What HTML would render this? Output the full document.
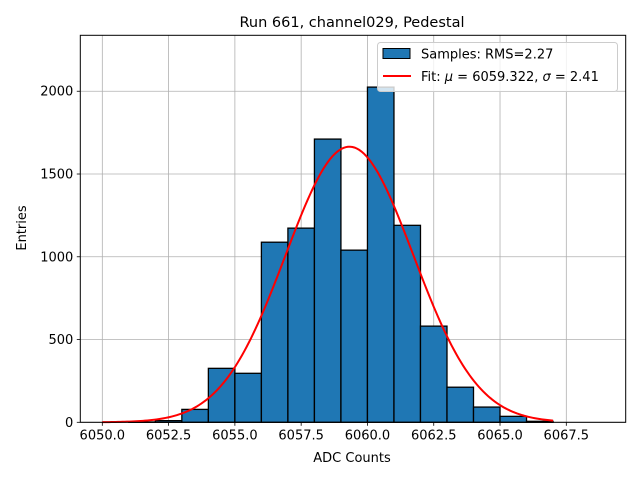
<!DOCTYPE html>
<html><head><meta charset="utf-8"><style>
body{margin:0;background:#fff;}
svg text{font-family:"DejaVu Sans","Liberation Sans",sans-serif;fill:#000;}
</style></head><body>
<svg id="chart" width="640" height="480" xmlns="http://www.w3.org/2000/svg">
<rect width="640" height="480" fill="#fff"/>
<g id="grid"></g>
<g id="bars"></g>
<g id="fit"></g>
<g id="axes"></g>
</svg>
<script>
const binStarts = [6050,6051,6052,6053,6054,6055,6056,6057,6058,6059,6060,6061,6062,6063,6064,6065,6066,6067,6068];
const counts = [0,2,10,78,326,296,1088,1173,1711,1040,2025,1190,581,212,92,36,6,0,0];
const xTicks = [6050.0,6052.5,6055.0,6057.5,6060.0,6062.5,6065.0,6067.5];
const xTickLabels = ["6050.0","6052.5","6055.0","6057.5","6060.0","6062.5","6065.0","6067.5"];
const yTicks = [0,500,1000,1500,2000];
const fitMu = 6059.322, fitSigma = 2.41, fitAmp = 1665;
const fitRange = [6050, 6067];

const L=80.3,R=625.7,T=35.3,B=422.3;
const xMin=6049.17,xMax=6069.74,yMax=2338;
const X=v=>L+(v-xMin)/(xMax-xMin)*(R-L);
const Y=v=>B-v/yMax*(B-T);
const NS="http://www.w3.org/2000/svg";
function mk(tag,attrs,parent){const e=document.createElementNS(NS,tag);for(const k in attrs)e.setAttribute(k,attrs[k]);parent.appendChild(e);return e;}
const grid=document.getElementById('grid'),bars=document.getElementById('bars'),fit=document.getElementById('fit'),axes=document.getElementById('axes');

xTicks.forEach((t,i)=>{
  const g=mk('line',{x1:X(t),x2:X(t),y1:T,y2:B,stroke:'#b0b0b0','stroke-width':0.8},grid);
  
  
  mk('line',{x1:X(t),x2:X(t),y1:B,y2:B+3.5,stroke:'#000','stroke-width':0.8},axes);
  const tx=mk('text',{x:X(t),y:B+17,'font-size':13,'text-anchor':'middle'},axes);
  tx.textContent=xTickLabels[i];
  
  
});
yTicks.forEach(t=>{
  const g=mk('line',{x1:L,x2:R,y1:Y(t),y2:Y(t),stroke:'#b0b0b0','stroke-width':0.8},grid);
  
  
  mk('line',{x1:L-3.5,x2:L,y1:Y(t),y2:Y(t),stroke:'#000','stroke-width':0.8},axes);
  const tx=mk('text',{x:L-7,y:Y(t)+4.5,'font-size':13,'text-anchor':'end'},axes);
  tx.textContent=String(t);
  
  
});
binStarts.forEach((s,i)=>{
  if(counts[i]<=0)return;
  const r=mk('rect',{x:X(s),y:Y(counts[i]),width:X(s+1)-X(s),height:B-Y(counts[i]),fill:'#1f77b4',stroke:'#000','stroke-width':1.3},bars);
  
  
});
let d='';
for(let k=0;k<=200;k++){const v=fitRange[0]+(fitRange[1]-fitRange[0])*k/200;const c=fitAmp*Math.exp(-0.5*((v-fitMu)/fitSigma)**2);d+=(k?'L':'M')+X(v).toFixed(2)+','+Y(c).toFixed(2);}
const p=mk('path',{d:d,fill:'none',stroke:'#ff0000','stroke-width':2},fit);


const fr=mk('rect',{x:L,y:T,width:R-L,height:B-T,fill:'none',stroke:'#000','stroke-width':1},axes);


</script>
<svg width="640" height="480" style="position:absolute;left:0;top:0">
<text x="352" y="27" font-size="14.5" text-anchor="middle" style="font-family:'DejaVu Sans','Liberation Sans',sans-serif">Run 661, channel029, Pedestal</text>
<text x="352" y="462" font-size="13" text-anchor="middle" style="font-family:'DejaVu Sans','Liberation Sans',sans-serif">ADC Counts</text>
<text transform="translate(26,228) rotate(-90)" font-size="13" text-anchor="middle" style="font-family:'DejaVu Sans','Liberation Sans',sans-serif">Entries</text>
<g>
<rect x="377.5" y="42.5" width="240" height="49" rx="3" fill="#fff" fill-opacity="0.8" stroke="#ccc"/>
<rect x="383" y="48.5" width="27" height="10" fill="#1f77b4" stroke="#000"/>
<text x="421" y="58.5" font-size="13" style="font-family:'DejaVu Sans','Liberation Sans',sans-serif">Samples: RMS=2.27</text>
<line x1="383" x2="411" y1="76" y2="76" stroke="#ff0000" stroke-width="2"/>
<text x="421" y="81" font-size="13" style="font-family:'DejaVu Sans','Liberation Sans',sans-serif">Fit: <tspan font-style="italic">μ</tspan> = 6059.322, <tspan font-style="italic">σ</tspan> = 2.41</text>
</g>
</svg>
</body></html>
